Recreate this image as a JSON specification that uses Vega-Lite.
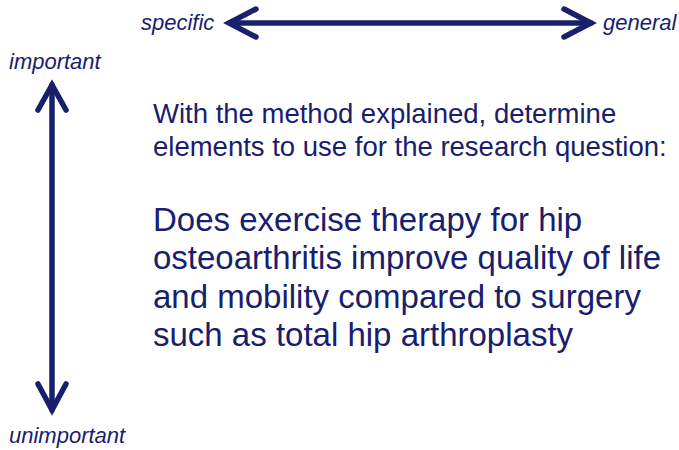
{
  "$schema": "https://vega.github.io/schema/vega-lite/v6.json",
  "width": 679,
  "height": 450,
  "padding": 0,
  "autosize": {"type": "none"},
  "background": "white",
  "config": {"view": {"stroke": null}},
  "datasets": {
    "arrows": [
      {"part": "h-shaft", "o": 1, "x": 230, "y": 23},
      {"part": "h-shaft", "o": 2, "x": 591, "y": 23},
      {"part": "h-left", "o": 1, "x": 256, "y": 9},
      {"part": "h-left", "o": 2, "x": 229, "y": 23},
      {"part": "h-left", "o": 3, "x": 256, "y": 37},
      {"part": "h-right", "o": 1, "x": 564, "y": 9},
      {"part": "h-right", "o": 2, "x": 591, "y": 23},
      {"part": "h-right", "o": 3, "x": 564, "y": 37},
      {"part": "v-shaft", "o": 1, "x": 52, "y": 85},
      {"part": "v-shaft", "o": 2, "x": 52, "y": 410},
      {"part": "v-top", "o": 1, "x": 38, "y": 110},
      {"part": "v-top", "o": 2, "x": 52, "y": 85},
      {"part": "v-top", "o": 3, "x": 66, "y": 110},
      {"part": "v-bottom", "o": 1, "x": 38, "y": 384},
      {"part": "v-bottom", "o": 2, "x": 52, "y": 410},
      {"part": "v-bottom", "o": 3, "x": 66, "y": 384}
    ],
    "labels": [
      {"label": "specific", "x": 141, "y": 30},
      {"label": "general", "x": 603, "y": 30},
      {"label": "important", "x": 9, "y": 69},
      {"label": "unimportant", "x": 9, "y": 443}
    ],
    "intro": [
      {"line": "With the method explained, determine", "x": 153, "y": 123},
      {"line": "elements to use for the research question:", "x": 153, "y": 156}
    ],
    "question": [
      {"line": "Does exercise therapy for hip", "x": 153, "y": 231},
      {"line": "osteoarthritis improve quality of life", "x": 153, "y": 269},
      {"line": "and mobility compared to surgery", "x": 153, "y": 308},
      {"line": "such as total hip arthroplasty", "x": 153, "y": 346}
    ]
  },
  "layer": [
    {
      "data": {"name": "arrows"},
      "mark": {"type": "line", "color": "#18206e", "strokeWidth": 5.5, "strokeCap": "round", "strokeJoin": "miter"},
      "encoding": {
        "x": {"field": "x", "type": "quantitative", "scale": {"domain": [0, 679], "range": [0, 679], "nice": false, "zero": false}, "axis": null},
        "y": {"field": "y", "type": "quantitative", "scale": {"domain": [0, 450], "range": [0, 450], "nice": false, "zero": false}, "axis": null},
        "detail": {"field": "part", "type": "nominal"},
        "order": {"field": "o", "type": "quantitative"}
      }
    },
    {
      "data": {"name": "labels"},
      "mark": {"type": "text", "font": "Arial", "fontStyle": "italic", "fontSize": 22, "color": "#18206e", "align": "left", "baseline": "alphabetic"},
      "encoding": {
        "x": {"field": "x", "type": "quantitative"},
        "y": {"field": "y", "type": "quantitative"},
        "text": {"field": "label"}
      }
    },
    {
      "data": {"name": "intro"},
      "mark": {"type": "text", "font": "Arial", "fontSize": 27.5, "color": "#18206e", "align": "left", "baseline": "alphabetic"},
      "encoding": {
        "x": {"field": "x", "type": "quantitative"},
        "y": {"field": "y", "type": "quantitative"},
        "text": {"field": "line"}
      }
    },
    {
      "data": {"name": "question"},
      "mark": {"type": "text", "font": "Arial", "fontSize": 33, "color": "#18206e", "align": "left", "baseline": "alphabetic"},
      "encoding": {
        "x": {"field": "x", "type": "quantitative"},
        "y": {"field": "y", "type": "quantitative"},
        "text": {"field": "line"}
      }
    }
  ]
}
